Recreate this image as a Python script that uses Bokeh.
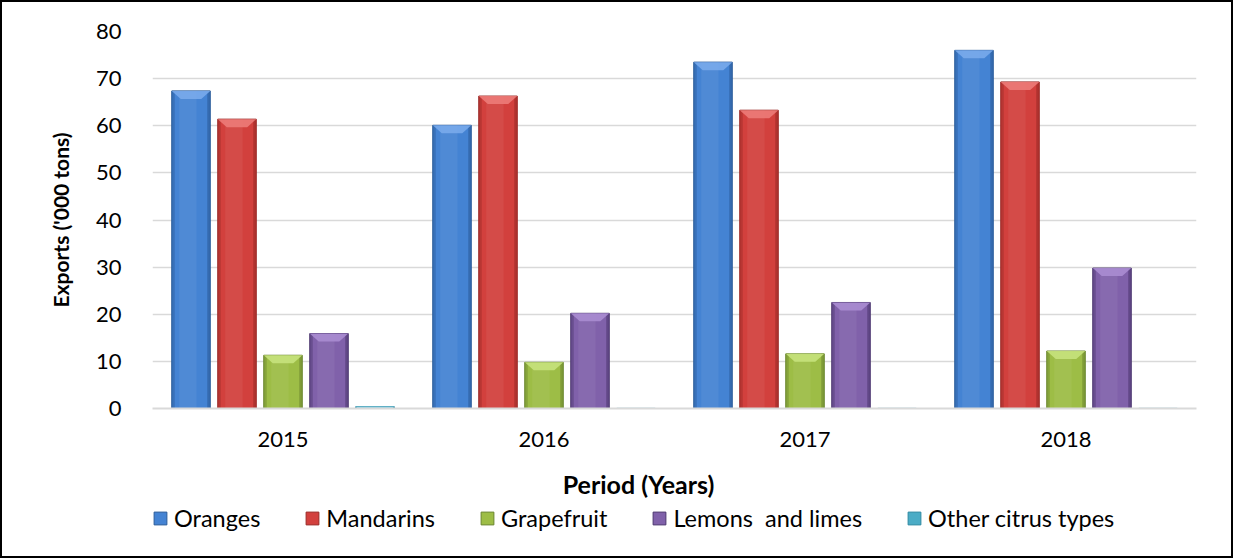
from bokeh.plotting import figure
from bokeh.layouts import column
from bokeh.models import (Range1d, FixedTicker, SingleIntervalTicker, Legend, LegendItem,
                          ColumnDataSource, Label)
from bokeh.embed import file_html
from bokeh.resources import INLINE

# Citrus exports, '000 tons
years = ["2015", "2016", "2017", "2018"]
oranges = [67.4, 60.1, 73.5, 76.0]
mandarins = [61.4, 66.3, 63.3, 69.3]
grapefruit = [11.3, 9.8, 11.6, 12.2]
lemons_limes = [15.9, 20.2, 22.5, 29.8]
other_citrus = [0.4, 0.03, 0.03, 0.03]

series_names = ["Oranges", "Mandarins", "Grapefruit", "Lemons  and limes", "Other citrus types"]
series_values = [oranges, mandarins, grapefruit, lemons_limes, other_citrus]

# (face, edge, top facet) colours per series
palette = [
    ("#4483d3", "#2b5c99", "#79aaeb"),
    ("#d2403d", "#9a2a27", "#ec7b78"),
    ("#9dbd46", "#6a862f", "#c7e27c"),
    ("#8061aa", "#4c376f", "#aa8dd1"),
    ("#4bacc6", "#2e89a2", "#90d3e6"),
]

FONT = "Lato"
W = 1229
LEFT = 150
FRAME_W, FRAME_H = 1044, 377
TOP, BOTTOM = 29, 55
MAIN_H = TOP + FRAME_H + BOTTOM
FOOT_H = 554 - MAIN_H

# ---- main chart ----
p = figure(width=W, height=MAIN_H, x_range=Range1d(0, len(years)), y_range=Range1d(0, 80),
           output_backend="svg", toolbar_location=None,
           min_border_left=LEFT, min_border_right=W - LEFT - FRAME_W,
           min_border_top=TOP, min_border_bottom=BOTTOM)
p.outline_line_color = None

# bar geometry in data units
px_x = len(years) / FRAME_W
px_y = 80 / FRAME_H
bar_w = 38.5 * px_x
step = 46 * px_x
side = 3 * px_x
inset = 9 * px_x
bev = 8 * px_y

centers = [i + 0.5 for i in range(len(years))]
for k, (name, vals, (face, edge, light)) in enumerate(zip(series_names, series_values, palette)):
    xs = [c + (k - 2) * step for c in centers]
    src = ColumnDataSource(dict(x=xs, top=vals))
    p.vbar(x="x", top="top", bottom=0, width=bar_w, source=src,
           fill_color=face, line_color=edge, line_width=1)
    # darker side facets
    p.vbar(x=[x - bar_w / 2 + side / 2 for x in xs], top=vals, bottom=0, width=side,
           fill_color=edge, fill_alpha=0.45, line_color=None)
    p.vbar(x=[x + bar_w / 2 - side / 2 for x in xs], top=vals, bottom=0, width=side,
           fill_color=edge, fill_alpha=0.6, line_color=None)
    # soft centre highlight
    p.vbar(x=[x - bar_w * 0.08 for x in xs], top=vals, bottom=0, width=bar_w * 0.45,
           fill_color="white", fill_alpha=0.06, line_color=None)
    # bevelled top facet
    pxs, pys = [], []
    for x, v in zip(xs, vals):
        h = min(bev, v)
        ins = inset * h / bev
        pxs.append([x - bar_w / 2, x + bar_w / 2, x + bar_w / 2 - ins, x - bar_w / 2 + ins])
        pys.append([v, v, v - h, v - h])
    p.patches(xs=pxs, ys=pys, fill_color=light, fill_alpha=0.9, line_color=None)

# axes
p.yaxis.ticker = SingleIntervalTicker(interval=10)
p.yaxis.axis_line_color = None
p.yaxis.major_tick_line_color = None
p.yaxis.minor_tick_line_color = None
p.yaxis.major_label_standoff = 25
p.yaxis.axis_label = "Exports ('000 tons)"
p.yaxis.axis_label_standoff = 20
p.yaxis.axis_label_text_font = FONT
p.yaxis.axis_label_text_font_size = "21px"
p.yaxis.axis_label_text_font_style = "bold"
p.yaxis.axis_label_text_color = "#000000"

p.xaxis.ticker = FixedTicker(ticks=centers)
p.xaxis.major_label_overrides = {c: y for c, y in zip(centers, years)}
p.xaxis.axis_line_color = "#d9d9d9"
p.xaxis.axis_line_width = 2
p.xaxis.major_tick_line_color = None
p.xaxis.minor_tick_line_color = None
p.xaxis.major_label_standoff = 17

for ax in (p.xaxis, p.yaxis):
    ax.major_label_text_font = FONT
    ax.major_label_text_font_size = "22px"
    ax.major_label_text_color = "#000000"

p.xgrid.grid_line_color = None
p.ygrid.grid_line_color = "#d9d9d9"
p.ygrid.grid_line_width = 1.5

# ---- footer: x axis title and legend; its frame lines up with the chart's,
# so x data units equal page pixels ----
f = figure(width=W, height=FOOT_H, x_range=Range1d(LEFT, LEFT + FRAME_W),
           y_range=Range1d(0, FOOT_H),
           output_backend="svg", toolbar_location=None,
           x_axis_location=None, y_axis_location=None,
           min_border_left=LEFT, min_border_right=W - LEFT - FRAME_W,
           min_border_top=0, min_border_bottom=0)
f.outline_line_color = None
f.grid.grid_line_color = None

f.add_layout(Label(x=636, y=FOOT_H - 20, text="Period (Years)", text_align="center",
                   text_baseline="middle", text_font=FONT, text_font_size="25px",
                   text_font_style="bold", text_color="#000000"))

legend_items = []
for name, vals, (face, edge, light) in zip(series_names, series_values, palette):
    swatch = f.vbar(x=centers, top=vals, width=bar_w, fill_color=face,
                    line_color=edge, line_width=1, visible=False)
    legend_items.append(LegendItem(label=name, renderers=[swatch]))

legend = Legend(items=legend_items, orientation="horizontal", location=(0, 24),
                padding=0, margin=0, spacing=44, label_standoff=6,
                glyph_width=16, glyph_height=16, label_height=22,
                border_line_color=None, background_fill_alpha=0,
                inactive_fill_alpha=0,
                label_text_font=FONT, label_text_font_size="23.5px", label_text_color="#000000")
f.add_layout(legend, "center")

page = column(p, f, spacing=0)
page.styles = {"border": "2px solid black"}

open("out.html", "w").write(file_html(page, INLINE))
